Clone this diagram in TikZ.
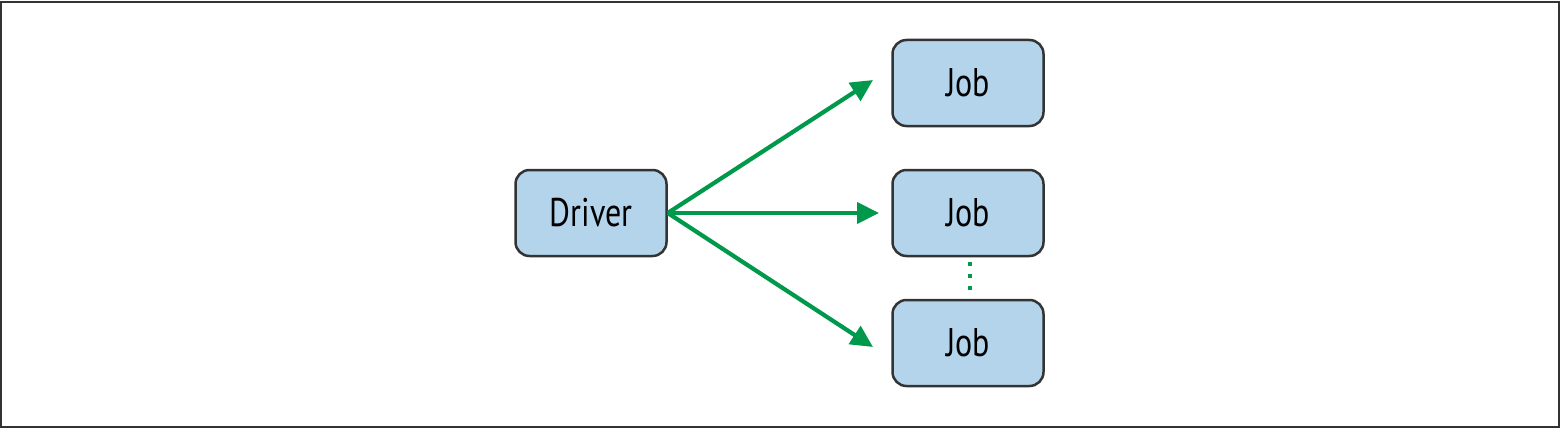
\documentclass[tikz,border=0pt]{standalone}
\usepackage{fontspec}
\setmainfont{PT Sans}[FakeStretch=0.8]
\usetikzlibrary{arrows.meta}
\definecolor{boxfill}{HTML}{B3D4EA}
\definecolor{boxline}{HTML}{333333}
\definecolor{arrgreen}{HTML}{00984A}
\tikzset{
  x=1pt,y=-1pt,
  box/.style={draw=boxline,line width=2.5pt,fill=boxfill,rounded corners=14pt,
    minimum width=151pt,minimum height=86pt,inner sep=0pt,
    font=\fontsize{40}{46}\selectfont,text=black},
  conn/.style={draw=arrgreen,line width=4.2pt,
    -{Triangle[length=22pt,width=21pt]}},
}
\begin{document}
\begin{tikzpicture}
\useasboundingbox (0,0) rectangle (1560,428);
\draw[line width=1.8pt,draw=black!80] (1,2) rectangle (1559,427);
\node[box] (driver) at (591,213) {Driver};
\node[box] (job1) at (968,83) {Job};
\node[box] (job2) at (968,213) {Job};
\node[box] (job3) at (968,343) {Job};
\coordinate (t1) at (873,80);
\coordinate (t2) at (879,213);
\coordinate (t3) at (873,347);
\draw[conn] (driver.east) -- (t1);
\draw[conn] (driver.east) -- (t2);
\draw[conn] (driver.east) -- (t3);
\coordinate (d1) at (970,262);
\coordinate (d2) at (970,292);
\draw[draw=arrgreen,line width=4pt,dash pattern=on 4pt off 8pt] (d1) -- (d2);
\end{tikzpicture}
\end{document}
